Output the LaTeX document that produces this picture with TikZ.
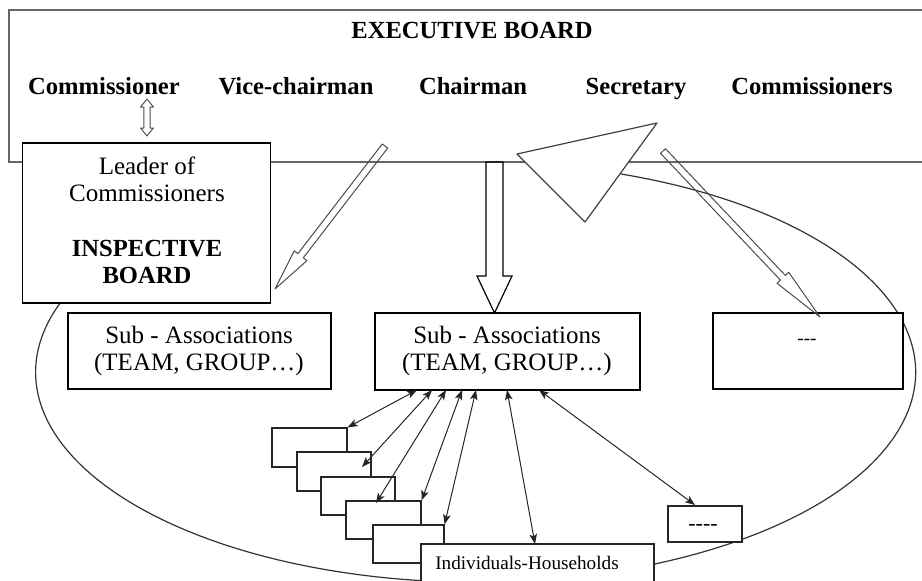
\documentclass[tikz,border=0pt]{standalone}
\usepackage{fontspec}
\setmainfont{Liberation Serif}
\usetikzlibrary{calc,arrows.meta}

% outlined (hollow) arrow from #2 to #3: shaft half width #4,
% head half width #5, head length #6
\newcommand\hollowarrow[6][]{%
  \coordinate (hb) at ($(#3)!#6!(#2)$);
  \draw[hollow,#1] ($(#2)!#4!90:(#3)$) -- ($(hb)!#4!90:(#3)$) -- ($(hb)!#5!90:(#3)$) -- (#3)
    -- ($(hb)!#5!-90:(#3)$) -- ($(hb)!#4!-90:(#3)$) -- ($(#2)!#4!-90:(#3)$) -- cycle;}

% outlined arrow with a head at both ends
\newcommand\hollowdarrow[6][]{%
  \coordinate (ha) at ($(#2)!#6!(#3)$);
  \coordinate (hb) at ($(#3)!#6!(#2)$);
  \draw[hollow,#1] (#2) -- ($(ha)!#5!90:(#3)$) -- ($(ha)!#4!90:(#3)$) -- ($(hb)!#4!90:(#3)$)
    -- ($(hb)!#5!90:(#3)$) -- (#3) -- ($(hb)!#5!-90:(#3)$) -- ($(hb)!#4!-90:(#3)$)
    -- ($(ha)!#4!-90:(#3)$) -- ($(ha)!#5!-90:(#3)$) -- cycle;}

\tikzset{
  frame/.style={draw=black!60, line width=0.6pt},
  curve/.style={draw=black!80, line width=0.6pt},
  box/.style={draw=black, line width=0.8pt, fill=white, inner sep=0pt},
  smallbox/.style={draw=black!85, line width=0.6pt, fill=white, inner sep=0pt},
  hollow/.style={draw=black!70, line width=0.5pt, line join=round},
  link/.style={draw=black!85, line width=0.5pt,
    {Stealth[length=5pt,width=3.8pt,inset=1.2pt]}-{Stealth[length=5pt,width=3.8pt,inset=1.2pt]}},
  head/.style={font=\fontsize{12.3}{14}\selectfont\bfseries, inner sep=0pt},
  body/.style={font=\fontsize{12.5}{13.5}\selectfont, align=center, inner sep=0pt},
  tiny/.style={font=\fontsize{9.6}{11}\selectfont, inner sep=0pt},
}

\begin{document}
\begin{tikzpicture}[x=0.5pt,y=-0.5pt]
\useasboundingbox (0,0) rectangle (922,580);

% executive board frame, open to the right
\draw[frame] (922,10) -- (9,10) -- (9,162) -- (922,162);

% loop round the associations
\draw[curve] (621,174) arc[start angle=70.7, end angle=-199.5, x radius=220pt, y radius=105pt];

% executive board members
\node[head, anchor=base] (exec) at (472,38) {EXECUTIVE BOARD};
\node[head, anchor=base] (comm) at (104,94) {Commissioner};
\node[head, anchor=base] (vice) at (296,94) {Vice-chairman};
\node[head, anchor=base] (chair) at (473,94) {Chairman};
\node[head, anchor=base] (secr) at (636,94) {Secretary};
\node[head, anchor=base] (comms) at (812,94) {Commissioners};

% inspective board
\node[box, minimum width=124pt, minimum height=80pt] (leader) at (146.5,223) {};
\node[body] (leadtxt) at (147,179) {Leader of\\Commissioners};
\node[body, font=\fontsize{12.3}{13.5}\selectfont\bfseries] (insp) at (147,262) {INSPECTIVE\\BOARD};

% secretary's triangle
\draw[draw=black!75, line width=0.6pt, fill=white, line join=round]
  (517,154) -- (657,123) -- (585,222) -- cycle;

% sub-associations
\node[box, minimum width=131.5pt, minimum height=38pt] (sub1) at (199.5,351) {};
\node[body] (sub1t) at (199,351) {Sub - Associations\\(TEAM, GROUP…)};
\node[box, minimum width=132.5pt, minimum height=38.5pt] (sub2) at (507.5,351.5) {};
\node[body] (sub2t) at (507,351) {Sub - Associations\\(TEAM, GROUP…)};
\node[box, minimum width=95pt, minimum height=38pt] (sub3) at (808,351) {};
\node[tiny] (sub3t) at (807,342) {-{}-{}-};

% hollow arrows from the board
\coordinate (cm1) at (147,99);
\coordinate (cm2) at (147,136);
\hollowdarrow{cm1}{cm2}{1.6pt}{3.2pt}{4pt}
\coordinate (vc1) at (385,146);
\coordinate (vc2) at (275,289);
\hollowarrow{vc1}{vc2}{1.7pt}{4pt}{21pt}
\coordinate (ch1) at (494.5,162);
\coordinate (ch2) at (494.5,313);
\hollowarrow[draw=black, line width=0.6pt, line join=miter]{ch1}{ch2}{4.25pt}{8.75pt}{18.5pt}
\coordinate (se1) at (663,151);
\coordinate (se2) at (820,317);
\hollowarrow{se1}{se2}{1.7pt}{4pt}{27pt}

% teams and individuals
\node[smallbox, minimum width=37.5pt, minimum height=19.5pt] (ta) at (309.5,447.5) {};
\node[smallbox, minimum width=37pt, minimum height=19.5pt] (tb) at (334,471.5) {};
\node[smallbox, minimum width=37pt, minimum height=19pt] (tc) at (358,496) {};
\node[smallbox, minimum width=37.5pt, minimum height=19pt] (td) at (383.5,520) {};
\node[smallbox, minimum width=35.5pt, minimum height=19pt] (te) at (408.5,544) {};
\node[smallbox, minimum width=116.5pt, minimum height=28pt] (ind) at (537.5,572) {};
\node[tiny] (indt) at (527,563) {Individuals-Households};
\node[smallbox, minimum width=37pt, minimum height=18pt] (other) at (705,524) {};
\node[tiny, font=\fontsize{11}{12}\selectfont] (othert) at (703,527) {-{}-{}-{}-};

% two-way links
\coordinate (s1) at (417,390);
\coordinate (s2) at (432,390);
\coordinate (s3) at (446,390);
\coordinate (s4) at (462,390);
\coordinate (s5) at (476,390);
\coordinate (s6) at (507,390);
\coordinate (s7) at (539,390);
\coordinate (t2) at (362,467);
\coordinate (t3) at (376,503);
\coordinate (t6) at (535,544);
\coordinate (t7) at (695,505);
\draw[link] (s1) -- (ta.north east);
\draw[link] (s2) -- (t2);
\draw[link] (s3) -- (t3);
\draw[link] (s4) -- (td.north east);
\draw[link] (s5) -- (te.north east);
\draw[link] (s6) -- (t6);
\draw[link] (s7) -- (t7);
\end{tikzpicture}
\end{document}
